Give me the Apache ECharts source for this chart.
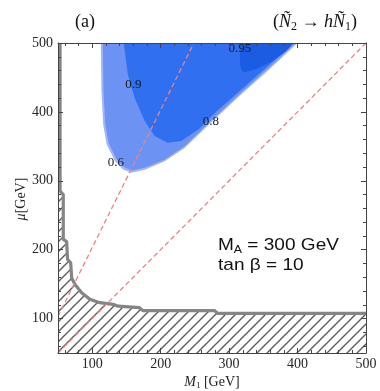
<!DOCTYPE html>
<html>
<head>
<meta charset="utf-8">
<script src="https://cdn.jsdelivr.net/npm/echarts@6/dist/echarts.min.js"></script>
<style>
  html, body { margin: 0; padding: 0; background: #fff; }
  #c { width: 380px; height: 391px; }
</style>
</head>
<body>
<div id="c"></div>
<script>
// Axis ranges (GeV)
const M1_MIN = 50, M1_MAX = 500;
const MU_MIN = 50, MU_MAX = 500;

// Tick positions (GeV)
const majorTicks = [100, 200, 300, 400, 500];
const minorTicks = [60, 80, 120, 140, 160, 180, 220, 240, 260, 280,
                    320, 340, 360, 380, 420, 440, 460, 480];

// BR(N2 -> h N1) contour boundaries, points as [M1, mu]
const contour060 = [[112.5, 500], [113.5, 430], [116, 382], [121, 353], [133, 329],
  [145, 316.5], [157, 311.5], [177, 316], [206, 328.5], [235, 347.5], [271, 382],
  [315, 423], [359, 462], [400, 500]];
const contour080 = [[115.5, 500], [116.5, 430], [119, 383], [124, 355], [135, 332],
  [147, 319.5], [158, 315], [177, 319], [206, 331], [235, 350], [271, 384.5],
  [315, 425.5], [358, 464], [397, 500]];
const contour090 = [[146, 500], [152, 455], [162, 420], [176.7, 386.8], [191.3, 365],
  [210.2, 355.3], [230.1, 357.7], [256.8, 376], [278.6, 398], [315, 430],
  [358.7, 468.5], [395, 500]];
const contour095 = [[316, 500], [316, 469], [318, 461], [322, 457], [339, 462],
  [363.5, 474], [383, 488], [390, 495.6], [393, 500]];

// Contour level labels: [M1, mu, level]
const levelLabels = [[134.5, 325.8, '0.6'], [273.5, 386, '0.8'],
                     [160, 439, '0.9'], [315.8, 492, '0.95']];

// Edge of the excluded (hatched) region, [M1, mu]
const excludedEdge = [[53, 500], [53, 285], [57.7, 280], [57.7, 215], [62.6, 211.6],
  [64, 186], [68.5, 181], [70, 159], [74.7, 149.7], [84.5, 137.5], [96.6, 128],
  [111, 123], [130.5, 120.7], [138, 118], [169, 115.8], [174, 111.5],
  [279, 111.5], [283, 107.5], [500, 107.5]];

// Reference lines: mu ~ 2 M1 and mu = M1
const lineMuTwoM1 = [[50, 103], [248.5, 500]];
const lineMuEqM1 = [[50, 50], [500, 500]];

const SERIF = '"Liberation Serif", "Times New Roman", serif';
const SANS = '"Liberation Sans", Arial, sans-serif';
const FRAME = '#444';
const DASH_RED = '#ea8383';

function hatchPattern() {
  const s = 10;
  const cv = document.createElement('canvas');
  cv.width = s; cv.height = s;
  const g = cv.getContext('2d');
  g.fillStyle = '#fff';
  g.fillRect(0, 0, s, s);
  g.strokeStyle = '#5c5c5c';
  g.lineWidth = 1.4;
  g.beginPath();
  g.moveTo(-1, s + 1); g.lineTo(s + 1, -1);
  g.moveTo(-1, 1); g.lineTo(1, -1);
  g.moveTo(s - 1, s + 1); g.lineTo(s + 1, s - 1);
  g.stroke();
  return cv;
}

function regionSeries(points, fill, z) {
  return {
    type: 'custom', coordinateSystem: 'cartesian2d', xAxisIndex: 0, yAxisIndex: 0,
    silent: true, z: z, clip: true,
    data: [[M1_MIN, MU_MIN]],
    renderItem: (params, api) => ({
      type: 'polygon',
      shape: { points: points.map(p => api.coord(p)) },
      style: { fill: fill, stroke: null }
    })
  };
}

function axis(kind, position, ticks, len, labels, showLine) {
  const isX = kind === 'x';
  return {
    type: 'value', position: position, gridIndex: 0, z: 10,
    min: isX ? M1_MIN : MU_MIN, max: isX ? M1_MAX : MU_MAX,
    splitLine: { show: false },
    axisLine: { show: showLine, lineStyle: { color: FRAME, width: 1 } },
    axisTick: { show: true, inside: true, length: len, customValues: ticks,
                lineStyle: { color: FRAME, width: 1 } },
    axisLabel: labels ? {
      show: true, customValues: majorTicks, fontFamily: SERIF, fontSize: 14,
      color: '#262626', margin: isX ? 4 : 5
    } : { show: false }
  };
}

function dashedLine(points) {
  return {
    type: 'line', xAxisIndex: 0, yAxisIndex: 0, z: 7, silent: true,
    data: points, symbol: 'none',
    lineStyle: { color: DASH_RED, width: 1.3, type: [5, 3] }
  };
}

// Polygon for the excluded region closes along the lower-left frame
const excludedPolygon = [[M1_MIN, MU_MAX]].concat(excludedEdge,
  [[M1_MAX, MU_MIN], [M1_MIN, MU_MIN]]);

const chart = echarts.init(document.getElementById('c'), null, { renderer: 'canvas' });

chart.setOption({
  animation: false,
  backgroundColor: '#fff',
  grid: { left: 58, top: 43, right: 14, bottom: 38 },
  xAxis: [
    axis('x', 'bottom', majorTicks, 5, true, true),
    axis('x', 'bottom', minorTicks, 3, false, false),
    axis('x', 'top', majorTicks, 5, false, true),
    axis('x', 'top', minorTicks, 3, false, false)
  ],
  yAxis: [
    axis('y', 'left', majorTicks, 5, true, true),
    axis('y', 'left', minorTicks, 3, false, false),
    axis('y', 'right', majorTicks, 5, false, true),
    axis('y', 'right', minorTicks, 3, false, false)
  ],
  series: [
    regionSeries(contour060, '#a2b5f4', 1),
    regionSeries(contour080, '#6c93f3', 2),
    regionSeries(contour090, '#2f6ff0', 3),
    regionSeries(contour095, '#1b5ce2', 4),
    regionSeries(excludedPolygon, { image: hatchPattern(), repeat: 'repeat' }, 5),
    {
      type: 'line', xAxisIndex: 0, yAxisIndex: 0, z: 6, silent: true,
      data: excludedEdge, symbol: 'none',
      lineStyle: { color: '#858585', width: 3.2 }
    },
    dashedLine(lineMuTwoM1),
    dashedLine(lineMuEqM1),
    {
      type: 'custom', coordinateSystem: 'cartesian2d', xAxisIndex: 0, yAxisIndex: 0,
      z: 8, silent: true,
      data: levelLabels,
      renderItem: (params, api) => {
        const pt = api.coord([api.value(0), api.value(1)]);
        return {
          type: 'text', x: pt[0], y: pt[1],
          style: {
            text: levelLabels[params.dataIndex][2],
            fill: '#1a1a1a', font: '13px ' + SERIF,
            align: 'center', verticalAlign: 'middle'
          }
        };
      }
    }
  ],
  graphic: [
    {
      type: 'text', x: 85, y: 22, z: 20,
      style: { text: '(a)', font: '18px ' + SERIF, fill: '#111',
               align: 'center', verticalAlign: 'middle' }
    },
    {
      type: 'text', x: 315, y: 22, z: 20,
      style: {
        text: '{p|(}{i|Ñ}{s|2}{p| → }{i|hÑ}{s|1}{p|)}',
        align: 'center', verticalAlign: 'middle', fill: '#111',
        rich: {
          p: { fontFamily: SERIF, fontSize: 18, lineHeight: 22, fill: '#111' },
          i: { fontFamily: SERIF, fontSize: 18, fontStyle: 'italic', lineHeight: 22, fill: '#111' },
          s: { fontFamily: SERIF, fontSize: 12, lineHeight: 12, padding: [9, 0, 0, 0], fill: '#111' }
        }
      }
    },
    {
      type: 'text', x: 212, y: 382, z: 20,
      style: {
        text: '{i|M}{s|1}{p| [GeV]}',
        align: 'center', verticalAlign: 'middle', fill: '#222',
        rich: {
          p: { fontFamily: SERIF, fontSize: 14, lineHeight: 18, fill: '#222' },
          i: { fontFamily: SERIF, fontSize: 14, fontStyle: 'italic', lineHeight: 18, fill: '#222' },
          s: { fontFamily: SERIF, fontSize: 9, lineHeight: 10, padding: [7, 0, 0, 0], fill: '#222' }
        }
      }
    },
    {
      type: 'text', x: 21, y: 199, z: 20, rotation: Math.PI / 2,
      style: {
        text: '{i|μ}{p|[GeV]}',
        align: 'center', verticalAlign: 'middle', fill: '#222',
        rich: {
          p: { fontFamily: SERIF, fontSize: 14, lineHeight: 18, fill: '#222' },
          i: { fontFamily: SERIF, fontSize: 14, fontStyle: 'italic', lineHeight: 18, fill: '#222' }
        }
      }
    },
    {
      type: 'text', x: 218, y: 245, z: 20, scaleX: 1.12,
      style: {
        text: '{p|M}{s|A}{p| = 300 GeV}',
        align: 'left', verticalAlign: 'middle', fill: '#111',
        rich: {
          p: { fontFamily: SANS, fontSize: 17, lineHeight: 22, fill: '#111' },
          s: { fontFamily: SANS, fontSize: 11, lineHeight: 12, padding: [10, 0, 0, 0], fill: '#111' }
        }
      }
    },
    {
      type: 'text', x: 218, y: 265, z: 20, scaleX: 1.12,
      style: { text: 'tan β = 10', font: '17px ' + SANS, fill: '#111',
               align: 'left', verticalAlign: 'middle' }
    }
  ]
});
</script>
</body>
</html>
